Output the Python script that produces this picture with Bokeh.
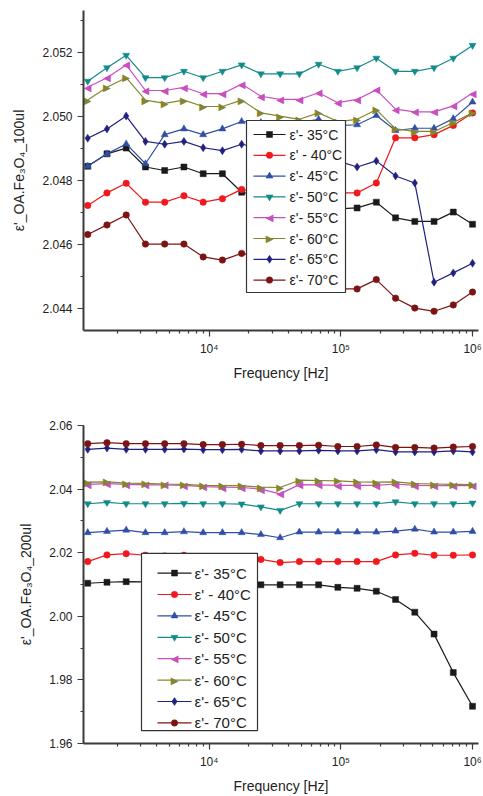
import math
from bokeh.plotting import figure
from bokeh.layouts import column
from bokeh.models import (FixedTicker, CustomJSTickFormatter, NumeralTickFormatter,
                          SingleIntervalTicker, Range1d, ColumnDataSource)
from bokeh.core.properties import value
from bokeh.embed import file_html
from bokeh.resources import INLINE

# ---------------- data ----------------
freq = [1195, 1673, 2342, 3280, 4592, 6428, 9000, 12600, 17640, 24700, 34570,
        48400, 67760, 94870, 132800, 185900, 260300, 364400, 510200, 714300, 1000000]

labels = ["ε'- 35°C", "ε' - 40°C", "ε'- 45°C", "ε'- 50°C",
          "ε'- 55°C", "ε'- 60°C", "ε'- 65°C", "ε'- 70°C"]

# top panel: OA.Fe3O4_100ul
t35 = [2.04843, 2.04882, 2.04900, 2.04841, 2.04830, 2.04841, 2.04820, 2.04820, 2.04762, 2.0475, 2.0474,
       2.0473, 2.0472, 2.0471, 2.04713, 2.04731, 2.04682, 2.04671, 2.04671, 2.04700, 2.04662]
t40 = [2.04721, 2.04760, 2.04790, 2.04731, 2.04731, 2.04751, 2.04731, 2.04742, 2.04771, 2.0476, 2.0475,
       2.0474, 2.0475, 2.0476, 2.04760, 2.04791, 2.04932, 2.04932, 2.04942, 2.04971, 2.05010]
t45 = [2.04843, 2.04882, 2.04913, 2.04851, 2.04942, 2.04960, 2.04942, 2.04960, 2.04983, 2.0498, 2.0497,
       2.0498, 2.0499, 2.0497, 2.04973, 2.05002, 2.04955, 2.04962, 2.04962, 2.04992, 2.05044]
t50 = [2.05109, 2.05151, 2.05190, 2.05120, 2.05120, 2.05140, 2.05120, 2.05140, 2.05160, 2.05132, 2.05132,
       2.05132, 2.05162, 2.05140, 2.05151, 2.05181, 2.05140, 2.05140, 2.05151, 2.05181, 2.05221]
t55 = [2.05090, 2.05120, 2.05160, 2.05080, 2.05080, 2.05090, 2.05070, 2.05070, 2.05100, 2.05062, 2.05052,
       2.05052, 2.05073, 2.05042, 2.05052, 2.05082, 2.05022, 2.05013, 2.05013, 2.05032, 2.05072]
t60 = [2.05050, 2.05090, 2.05120, 2.05050, 2.05040, 2.05050, 2.05030, 2.05030, 2.05050, 2.05010, 2.05000,
       2.04990, 2.05010, 2.04983, 2.04990, 2.05020, 2.04960, 2.04952, 2.04952, 2.04980, 2.05010]
t65 = [2.04931, 2.04960, 2.05000, 2.04921, 2.04912, 2.04921, 2.04901, 2.04892, 2.04912, 2.0490, 2.0489,
       2.0490, 2.0488, 2.0486, 2.04841, 2.04860, 2.04813, 2.04791, 2.04481, 2.04510, 2.04540]
t70 = [2.04630, 2.04660, 2.04691, 2.04600, 2.04600, 2.04600, 2.04560, 2.04550, 2.04571, 2.0456, 2.0454,
       2.0452, 2.0449, 2.0446, 2.04460, 2.04489, 2.04431, 2.04400, 2.04390, 2.04410, 2.04450]

# bottom panel: OA.Fe3O4_200ul
b35 = [2.0104, 2.0107, 2.0109, 2.0108, 2.0106, 2.0105, 2.0103, 2.0102, 2.0101, 2.0099, 2.0099,
       2.0099, 2.0099, 2.0091, 2.0088, 2.0079, 2.0053, 2.0013, 1.9944, 1.9823, 1.9717]
b40 = [2.0172, 2.0193, 2.0197, 2.0192, 2.0190, 2.0192, 2.0188, 2.0186, 2.0183, 2.0179, 2.0169,
       2.0172, 2.0172, 2.0172, 2.0172, 2.0172, 2.0193, 2.0198, 2.0192, 2.0192, 2.0193]
b45 = [2.0263, 2.0267, 2.0271, 2.0263, 2.0263, 2.0266, 2.0263, 2.0263, 2.0263, 2.0257, 2.0247,
       2.0265, 2.0265, 2.0265, 2.0265, 2.0265, 2.0268, 2.0274, 2.0265, 2.0265, 2.0267]
b50 = [2.0354, 2.0358, 2.0354, 2.0354, 2.0354, 2.0355, 2.0354, 2.0354, 2.0353, 2.0344, 2.0333,
       2.0354, 2.0354, 2.0354, 2.0354, 2.0354, 2.0360, 2.0354, 2.0354, 2.0354, 2.0356]
b55 = [2.0415, 2.0417, 2.0415, 2.0413, 2.0413, 2.0412, 2.0408, 2.0406, 2.0405, 2.0400, 2.0385,
       2.0414, 2.0413, 2.0412, 2.0412, 2.0412, 2.0416, 2.0412, 2.0411, 2.0411, 2.0411]
b60 = [2.0422, 2.0423, 2.0419, 2.0418, 2.0416, 2.0415, 2.0412, 2.0411, 2.0411, 2.0406, 2.0405,
       2.0428, 2.0427, 2.0426, 2.0423, 2.0422, 2.0423, 2.0417, 2.0416, 2.0415, 2.0414]
b65 = [2.0525, 2.0529, 2.0525, 2.0525, 2.0525, 2.0526, 2.0524, 2.0524, 2.0525, 2.0520, 2.0520,
       2.0520, 2.0522, 2.0520, 2.0520, 2.0524, 2.0517, 2.0517, 2.0517, 2.0520, 2.0517]
b70 = [2.0543, 2.0546, 2.0543, 2.0543, 2.0543, 2.0543, 2.0540, 2.0540, 2.0541, 2.0537, 2.0537,
       2.0537, 2.0538, 2.0534, 2.0534, 2.0539, 2.0531, 2.0531, 2.0529, 2.0532, 2.0534]

top_series = [t35, t40, t45, t50, t55, t60, t65, t70]
bottom_series = [b35, b40, b45, b50, b55, b60, b65, b70]

# ---------------- styles ----------------
colors = ["#1a1a1a", "#f0191e", "#2e4fa5", "#138a8a", "#c94fbe", "#85852e", "#20207e", "#7d1414"]
# markers: Bokeh marker names, or a text symbol for the sideways triangles
markers = ["square", "circle", "triangle", "inverted_triangle", "◀", "▶", "diamond", "circle"]
sizes = [6, 6.5, 7, 7, 7, 7, 8, 6.5]
SYMBOLS = ("◀", "▶")

FONT = "Liberation Sans"
AX = "#3a3a3a"
W, LEFT, RIGHT = 483, 83, 5
FW = W - LEFT - RIGHT                      # frame width in px
XR = (1110, 1.11e6)
LX0, LX1 = math.log10(XR[0]), math.log10(XR[1])

minor_x = [m * 10 ** d for d in (3, 4, 5) for m in range(2, 10)]


def superscript_formatter():
    return CustomJSTickFormatter(code="""
        const sup = {'0':'\u2070','1':'\u00b9','2':'\u00b2','3':'\u00b3','4':'\u2074',
                     '5':'\u2075','6':'\u2076','7':'\u2077','8':'\u2078','9':'\u2079','-':'\u207b'};
        const e = Math.round(Math.log10(tick));
        return '10' + String(e).split('').map(c => sup[c]).join('');
    """)


def draw_marker(p, xs, ys, m, c, s, src=None):
    if m in SYMBOLS:
        kw = dict(text=value(m), text_align="center", text_baseline="middle", text_color=c,
                  text_font=value("DejaVu Sans"), text_font_size="10px")
    else:
        kw = dict(marker=m, size=s, fill_color=c, line_color=c, line_width=0.5)
    if src is not None:
        (p.text if m in SYMBOLS else p.scatter)("x", "y", source=src, **kw)
    else:
        (p.text if m in SYMBOLS else p.scatter)(x=xs, y=ys, **kw)


def add_legend(p, yr, fh, box_left, box_bottom, box_w, box_h, first_off, step,
               line_l, line_r, text_off, font):
    """Legend box drawn inside the frame; pixel offsets are relative to the frame's bottom-left."""
    def X(sx):
        return 10 ** (LX0 + sx / FW * (LX1 - LX0))

    def Y(sy):
        return yr[0] + sy / fh * (yr[1] - yr[0])

    top_s = box_bottom + box_h
    p.quad(left=[X(box_left)], right=[X(box_left + box_w)], bottom=[Y(box_bottom)], top=[Y(top_s)],
           fill_color="white", line_color="#333333", line_width=1.2)
    for i, (lab, c, m, s) in enumerate(zip(labels, colors, markers, sizes)):
        cy = Y(top_s - first_off - i * step)
        p.segment(x0=[X(box_left + line_l)], y0=[cy], x1=[X(box_left + line_r)], y1=[cy],
                  line_color=c, line_width=1.2)
        draw_marker(p, [X(box_left + (line_l + line_r) / 2)], [cy], m, c, s)
        p.text(x=[X(box_left + text_off)], y=[cy], text=[lab], text_align="left",
               text_baseline="middle", text_font=value(FONT), text_font_size=font,
               text_color="#222222")


def make_fig(series, height, top, bottom, yr, interval, fmt, ylabel):
    p = figure(width=W, height=height, x_axis_type="log",
               x_range=Range1d(*XR), y_range=Range1d(*yr),
               output_backend="svg", toolbar_location=None,
               min_border_left=LEFT, min_border_right=RIGHT,
               min_border_top=top, min_border_bottom=bottom)
    p.outline_line_color = None
    p.xgrid.visible = False
    p.ygrid.visible = False
    p.background_fill_color = "white"

    for ys, c, m, s in zip(series, colors, markers, sizes):
        src = ColumnDataSource(dict(x=freq, y=ys))
        p.line("x", "y", source=src, line_color=c, line_width=1.2)
        draw_marker(p, None, None, m, c, s, src=src)

    xa = p.xaxis[0]
    xa.ticker = FixedTicker(ticks=[1e3, 1e4, 1e5, 1e6], minor_ticks=minor_x)
    xa.formatter = superscript_formatter()
    xa.axis_label = "Frequency [Hz]"

    ya = p.yaxis[0]
    ya.ticker = SingleIntervalTicker(interval=interval, num_minor_ticks=2)
    ya.formatter = NumeralTickFormatter(format=fmt)
    ya.axis_label = ylabel
    ya.axis_label_standoff = 12
    xa.axis_label_standoff = 6

    for ax in (xa, ya):
        ax.axis_line_color = AX
        ax.axis_line_width = 2
        ax.major_tick_line_color = AX
        ax.minor_tick_line_color = AX
        ax.major_tick_line_width = 1.2
        ax.minor_tick_line_width = 1.2
        ax.major_tick_in = 0
        ax.major_tick_out = 6
        ax.minor_tick_in = 0
        ax.minor_tick_out = 3
        ax.major_label_text_font = FONT
        ax.major_label_text_font_size = "12px"
        ax.major_label_text_color = "#222222"
        ax.axis_label_text_font = FONT
        ax.axis_label_text_font_size = "14px"
        ax.axis_label_text_font_style = "normal"
        ax.axis_label_text_color = "#222222"
    return p


YR_TOP = (2.0433, 2.0533)
YR_BOT = (1.96, 2.06)

p1 = make_fig(top_series, 400, 10, 70, YR_TOP, 0.002, "0.000", "ε'_OA.Fe₃O₄_100ul")
add_legend(p1, YR_TOP, 320, box_left=163, box_bottom=38, box_w=99, box_h=172,
           first_off=14, step=20.8, line_l=7, line_r=39, text_off=43, font="14px")

p2 = make_fig(bottom_series, 396, 25, 50, YR_BOT, 0.02, "0.00", "ε'_OA.Fe₃O₄_200ul")
add_legend(p2, YR_BOT, 321, box_left=58, box_bottom=13, box_w=116, box_h=179,
           first_off=20, step=21.6, line_l=16, line_r=50, text_off=53, font="15px")

layout = column(p1, p2, spacing=0)
open("out.html", "w").write(file_html(layout, INLINE))
